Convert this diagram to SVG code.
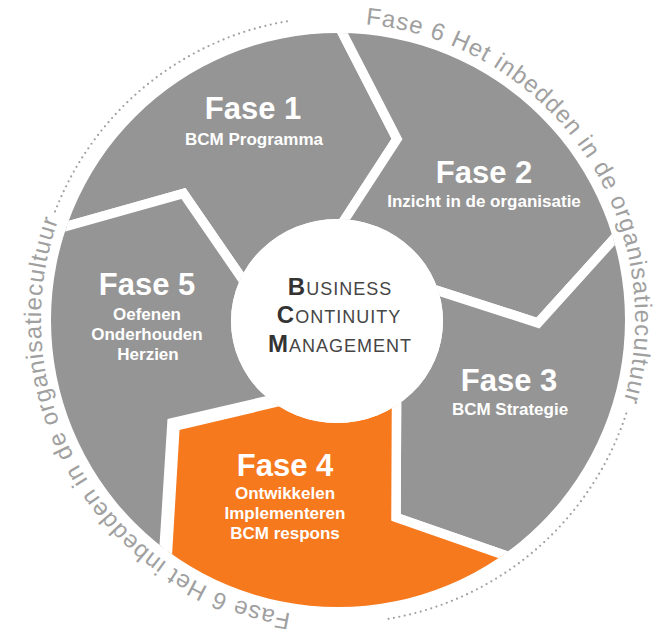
<svg xmlns="http://www.w3.org/2000/svg" width="655" height="638" viewBox="0 0 655 638">
<style>
.seg{stroke:#fff;stroke-width:9.5;stroke-linejoin:miter;stroke-miterlimit:10;clip-path:url(#ring)}
.gray{fill:#959595}
.orange{fill:#F7791E}
.h{font-family:"Liberation Sans",Arial,sans-serif;font-weight:bold;font-size:31px;fill:#fff;text-anchor:middle}
.s{font-family:"Liberation Sans",Arial,sans-serif;font-weight:bold;font-size:17px;fill:#fff;text-anchor:middle}
.bcm{font-family:"Liberation Sans",Arial,sans-serif;font-size:18px;fill:#454545;letter-spacing:1px;text-anchor:middle}
.cap{font-weight:bold;font-size:24px;fill:#333}
.ring{font-family:"Liberation Sans",Arial,sans-serif;font-size:24px;fill:#a0a0a0;letter-spacing:1px}
.dots{fill:none;stroke:#a0a0a0;stroke-width:2.2;stroke-linecap:round;stroke-dasharray:0 5.5}
</style>
<defs>
<clipPath id="ring"><path clip-rule="evenodd" d="M51 320A287 287 0 1 0 625 320A287 287 0 1 0 51 320ZM231 321A106 102 0 1 0 443 321A106 102 0 1 0 231 321Z"/></clipPath>
<path id="circ" d="M338 23A297 297 0 1 1 338 617A297 297 0 1 1 338 23"/>
</defs>
<rect width="655" height="638" fill="#fff"/>
<g id="fase1">
<path class="seg gray" d="M337 321L280 334L243 280L183.5 193.5L65 226.7L-200 294L-200 -200L320 -10L343.5 35L397 139L345 219L330 242Z"/>
<text class="h" x="253" y="119">Fase 1</text>
<text class="s" x="254" y="145">BCM Programma</text>
</g>
<g id="fase2">
<path class="seg gray" d="M337 321L330 242L345 219L397 139L343.5 35L320 -10L900 -200L900 178L640 210L613 240L538 323L434 289.5L400 278.5Z"/>
<text class="h" x="484" y="183">Fase 2</text>
<text class="s" x="484" y="207">Inzicht in de organisatie</text>
</g>
<g id="fase3">
<path class="seg gray" d="M337 321L400 278.5L434 289.5L538 323L613 240L640 210L900 178L900 800L560 574.5L502.5 554.5L396 517.5L396.5 406L396.5 380Z"/>
<text class="h" x="509" y="391">Fase 3</text>
<text class="s" x="510" y="415">BCM Strategie</text>
</g>
<g id="fase5">
<path class="seg gray" d="M337 321L320 388.3L271 399.8L172 422.8L164.2 546.4L161.2 600L158 900L-200 900L-200 294L65 226.7L183.5 193.5L243 280L280 334Z"/>
<text class="h" x="147" y="295">Fase 5</text>
<text class="s" x="147" y="320">Oefenen</text>
<text class="s" x="147" y="340">Onderhouden</text>
<text class="s" x="148" y="360">Herzien</text>
</g>
<g id="fase4">
<path class="seg orange" d="M337 321L396.5 380L396.5 406L396 517.5L502.5 554.5L560 574.5L900 800L162 900L164.8 600L167.8 546.6L175 426.2L272 403.2L320 391.7Z"/>
<text class="h" x="285" y="476">Fase 4</text>
<text class="s" x="285" y="499">Ontwikkelen</text>
<text class="s" x="285" y="519">Implementeren</text>
<text class="s" x="285" y="539">BCM respons</text>
</g>
<g id="bcm">
<ellipse cx="337" cy="321" rx="106" ry="102" fill="#fff"/>
<text class="bcm" x="340" y="295"><tspan class="cap">B</tspan>USINESS</text>
<text class="bcm" x="339" y="323"><tspan class="cap">C</tspan>ONTINUITY</text>
<text class="bcm" x="340" y="352"><tspan class="cap">M</tspan>ANAGEMENT</text>
</g>
<g id="fase6">
<text class="ring"><textPath href="#circ" startOffset="27.5">Fase 6 Het inbedden in de organisatiecultuur</textPath></text>
<text class="ring"><textPath href="#circ" startOffset="980">Fase 6 Het inbedden in de organisatiecultuur</textPath></text>
<path class="dots" d="M626.2 413.6A303 303 0 0 1 385.4 619.3"/>
<path class="dots" d="M55.1 211.4A303 303 0 0 1 290.6 20.7"/>
</g>
</svg>
